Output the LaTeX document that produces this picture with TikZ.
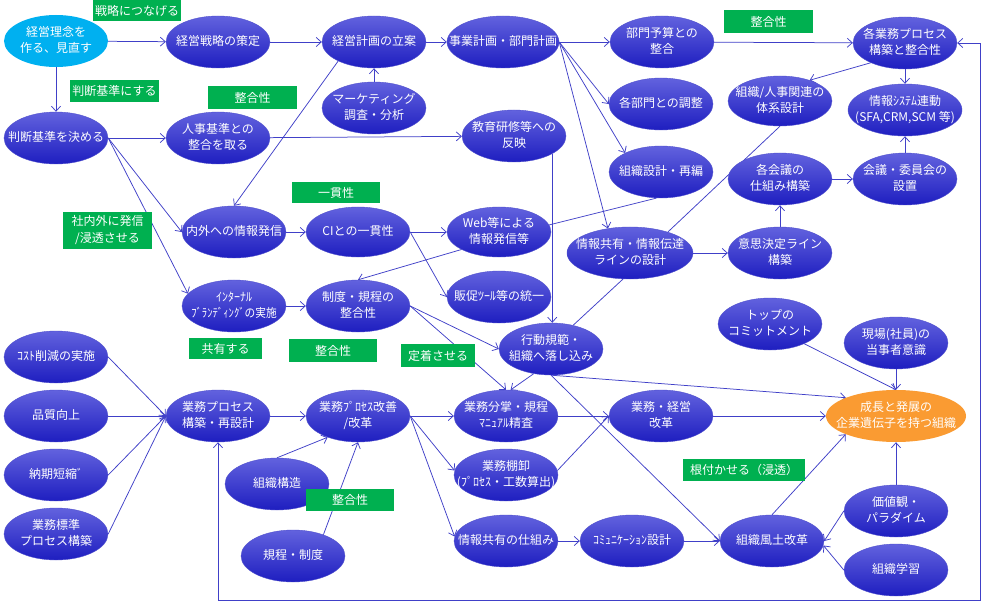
\documentclass[tikz,border=0pt]{standalone}
\usepackage{fontspec}
\setmainfont{Noto Sans CJK JP}
\usepackage{graphicx}
\usetikzlibrary{shapes.geometric,arrows.meta}
\pgfdeclarelayer{bg}
\pgfsetlayers{bg,main}
\definecolor{ntop}{RGB}{98,98,222}
\definecolor{nbot}{RGB}{30,30,192}
\definecolor{nbord}{RGB}{80,80,205}
\definecolor{ecol}{RGB}{64,64,200}
\definecolor{tgreen}{RGB}{0,176,80}
\definecolor{cyanb}{RGB}{0,176,240}
\definecolor{orng}{RGB}{250,155,50}
\newcommand\nt[1]{\makebox[0pt]{\begin{tabular}{@{}c@{}}#1\end{tabular}}}
\newcommand\ndfont{\fontsize{12bp}{16.5bp}\selectfont}
\begin{document}
\begin{tikzpicture}[x=1bp,y=-1bp,
  nbase/.style={ellipse, inner sep=0pt, minimum width=104bp, minimum height=52bp, text=white, font=\ndfont},
  bn/.style={nbase, top color=ntop, bottom color=nbot, draw=nbord, line width=0.4bp},
  cn/.style={nbase, fill=cyanb},
  on/.style={nbase, fill=orng},
  tag/.style={rectangle, fill=tgreen, text=white, inner sep=0pt, font=\ndfont},
  arr/.style={draw=ecol, line width=0.75bp, -{Straight Barb[length=5bp,width=9bp]}},
  arr2/.style={draw=ecol, line width=0.75bp, {Straight Barb[length=5bp,width=9bp]}-{Straight Barb[length=5bp,width=9bp]}},
  ln/.style={draw=ecol, line width=0.75bp}]
\useasboundingbox (0,0) rectangle (982,602);
% nodes
\node[cn] (rinen) at (56,41) {\nt{経営理念を\\作る、見直す}};
\node[bn] (senryaku) at (218,42) {\nt{経営戦略の策定}};
\node[bn] (keikaku) at (374,42) {\nt{経営計画の立案}};
\node[bn, minimum width=112bp] (jigyo) at (503,42) {\nt{事業計画・部門計画}};
\node[bn] (yosan) at (662,42) {\nt{部門予算との\\整合}};
\node[bn] (kakugyomu) at (905,43) {\nt{各業務プロセス\\構築と整合性}};
\node[bn] (mkt) at (374,108) {\nt{マーケティング\\調査・分析}};
\node[bn] (kyoiku) at (514,136) {\nt{教育研修等への\\反映}};
\node[bn] (kakubumon) at (661,104) {\nt{各部門との調整}};
\node[bn] (sekkei) at (661,172) {\nt{組織設計・再編}};
\node[bn, minimum height=50bp] (jinjikei) at (780,101) {\nt{組織/人事関連の\\体系設計}};
\node[bn, minimum width=114bp] (jsys) at (905,110) {\nt{情報ｼｽﾃﾑ連動\\(SFA,CRM,SCM 等)}};
\node[bn] (kakukaigi) at (780,179) {\nt{各会議の\\仕組み構築}};
\node[bn] (iinkai) at (905,179) {\nt{会議・委員会の\\設置}};
\node[bn] (handan) at (56,138) {\nt{判断基準を決める}};
\node[bn] (jinji) at (218,138) {\nt{人事基準との\\整合を取る}};
\node[bn] (naigai) at (234,232) {\nt{内外への情報発信}};
\node[bn, minimum height=50bp] (ci) at (358,232) {\nt{CIとの一貫性}};
\node[bn, minimum height=50bp] (web) at (499,232) {\nt{Web等による\\情報発信等}};
\node[bn, minimum width=126bp] (joho) at (630,253) {\nt{情報共有・情報伝達\\ラインの設計}};
\node[bn] (ishi) at (780,253) {\nt{意思決定ライン\\構築}};
\node[bn] (internal) at (234,306) {\nt{ｲﾝﾀｰﾅﾙ\\\scalebox{0.89}[1]{ﾌﾞﾗﾝﾃﾞｨﾝｸﾞの実施}}};
\node[bn] (seido) at (358,306) {\nt{制度・規程の\\整合性}};
\node[bn] (hansoku) at (499,297) {\nt{販促ﾂｰﾙ等の統一}};
\node[bn] (kodo) at (551,349) {\nt{行動規範・\\組織へ落し込み}};
\node[bn] (top) at (770,324) {\nt{トップの\\コミットメント}};
\node[bn] (genba) at (896,343) {\nt{現場(社員)の\\当事者意識}};
\node[on, minimum width=140bp] (seicho) at (896,416) {\nt{成長と発展の\\企業遺伝子を持つ組織}};
\node[bn] (cost) at (56,357) {\nt{ｺｽﾄ削減の実施}};
\node[bn] (hinshitsu) at (56,416) {\nt{品質向上}};
\node[bn] (noki) at (56,475) {\nt{納期短縮ﾞ}};
\node[bn] (hyojun) at (56,534) {\nt{業務標準\\プロセス構築}};
\node[bn] (kochiku) at (218,416) {\nt{業務プロセス\\構築・再設計}};
\node[bn] (kaizen) at (358,416) {\nt{業務ﾌﾟﾛｾｽ改善\\/改革}};
\node[bn] (kozo) at (277,484) {\nt{組織構造}};
\node[bn] (kitei) at (293,556) {\nt{規程・制度}};
\node[bn] (bunsho) at (506,416) {\nt{業務分掌・規程\\ﾏﾆｭｱﾙ精査}};
\node[bn] (tana) at (506,475) {\nt{業務棚卸\\(ﾌﾟﾛｾｽ・工数算出)}};
\node[bn] (shikumi) at (506,541) {\nt{情報共有の仕組み}};
\node[bn] (comm) at (632,541) {\nt{ｺﾐｭﾆｹｰｼｮﾝ設計}};
\node[bn] (kaikaku) at (661,416) {\nt{業務・経営\\改革}};
\node[bn] (fudo) at (772,541) {\nt{組織風土改革}};
\node[bn] (kachi) at (896,511) {\nt{価値観・\\パラダイム}};
\node[bn] (gakushu) at (896,570) {\nt{組織学習}};
% green tags
\node[tag, minimum width=88bp, minimum height=21bp] (t1) at (137,10.5) {戦略につなげる};
\node[tag, minimum width=89bp, minimum height=22bp] (t2) at (114.5,91) {判断基準にする};
\node[tag, minimum width=89bp, minimum height=23bp] (t3) at (252.5,97.5) {整合性};
\node[tag, minimum width=89bp, minimum height=23bp] (t4) at (768.5,21.5) {整合性};
\node[tag, minimum width=88bp, minimum height=21bp] (t5) at (336,192.5) {一貫性};
\node[tag, minimum width=89bp, minimum height=37bp] (t6) at (107.5,230.5) {\nt{社内外に発信\\/浸透させる}};
\node[tag, minimum width=73bp, minimum height=21bp] (t7) at (225.5,348.5) {共有する};
\node[tag, minimum width=88bp, minimum height=23bp] (t8) at (333,350.5) {整合性};
\node[tag, minimum width=74bp, minimum height=23bp] (t9) at (438,355.5) {定着させる};
\node[tag, minimum width=88bp, minimum height=22bp] (t10) at (350,500) {整合性};
\node[tag, minimum width=122bp, minimum height=22bp] (t11) at (744,470) {根付かせる（浸透）};
% connectors
\begin{pgfonlayer}{bg}
\fill[white] (0,0) rectangle (982,602);
\coordinate (lp1) at (218,600);
\coordinate (lp2) at (980,600);
\coordinate (lp3) at (980,43);
\draw[arr] (rinen) -- (senryaku);
\draw[arr] (rinen) -- (handan);
\draw[arr] (senryaku) -- (keikaku);
\draw[arr] (keikaku) -- (jigyo);
\draw[arr] (mkt) -- (keikaku);
\draw[arr] (keikaku.-152) -- (naigai.north);
\draw[arr] (jigyo) -- (yosan);
\draw[arr] (jigyo.east) -- (kakubumon.west);
\draw[arr] (jigyo.east) -- (sekkei.152);
\draw[arr] (jigyo.east) -- (joho.132);
\draw[arr] (yosan) -- (kakugyomu);
\draw[arr] (kakugyomu.-150) -- (jinjikei.35);
\draw[arr] (kakugyomu) -- (jsys);
\draw[arr] (iinkai) -- (jsys);
\draw[arr] (kakukaigi) -- (iinkai);
\draw[arr] (ishi) -- (kakukaigi);
\draw[arr] (joho) -- (ishi);
\draw[ln] (joho.29) -- (jinjikei.south);
\draw[ln] (joho.-105) -- (kodo.47);
\draw[ln] (sekkei.-100) -- (web.8);
\draw[arr] (kyoiku.-25.8) -- (kyoiku.-25.8 |- kodo.north);
\draw[arr] (jinji) -- (kyoiku);
\draw[arr] (handan) -- (jinji);
\draw[arr] (handan.east) -- (naigai.west);
\draw[arr] (handan.east) -- (internal.165);
\draw[arr] (naigai) -- (ci);
\draw[arr] (ci) -- (web);
\draw[arr] (ci.east) -- (hansoku.west);
\draw[arr] (internal) -- (seido);
\draw[arr] (web.-155) -- (seido.north);
\draw[arr] (seido.east) -- (kodo.west);
\draw[arr] (seido.east) -- (bunsho.north);
\draw[arr] (kodo.-125) -- (bunsho.80);
\draw[arr] (kodo.south) -- (seicho.160);
\draw[arr] (kodo.south) -- (fudo.west);
\draw[arr] (kochiku) -- (kaizen);
\draw[arr] (cost.east) -- (kochiku.west);
\draw[arr] (hinshitsu.east) -- (kochiku.west);
\draw[arr] (noki.east) -- (kochiku.west);
\draw[arr] (hyojun.east) -- (kochiku.west);
\draw[arr] (kozo.north) -- (kaizen.-145);
\draw[arr] (kitei.35) -- (kaizen.south);
\draw[arr] (kaizen) -- (bunsho);
\draw[arr] (kaizen.east) -- (tana.175);
\draw[arr] (kaizen.east) -- (shikumi.175);
\draw[arr] (bunsho) -- (kaikaku);
\draw[arr] (tana.5) -- (kaikaku.west);
\draw[arr] (shikumi) -- (comm);
\draw[arr] (comm) -- (fudo);
\draw[arr] (kaikaku) -- (seicho);
\draw[arr] (top.-30) -- (seicho.north);
\draw[arr] (genba) -- (seicho);
\draw[arr] (kachi) -- (seicho);
\draw[arr] (fudo.north) -- (seicho.-160);
\draw[arr] (kachi.west) -- (fudo.east);
\draw[arr] (gakushu.west) -- (fudo.-5);
\draw[arr2] (kochiku.south) -- (lp1) -- (lp2) -- (lp3) -- (kakugyomu.east);
\end{pgfonlayer}
\end{tikzpicture}
\end{document}
